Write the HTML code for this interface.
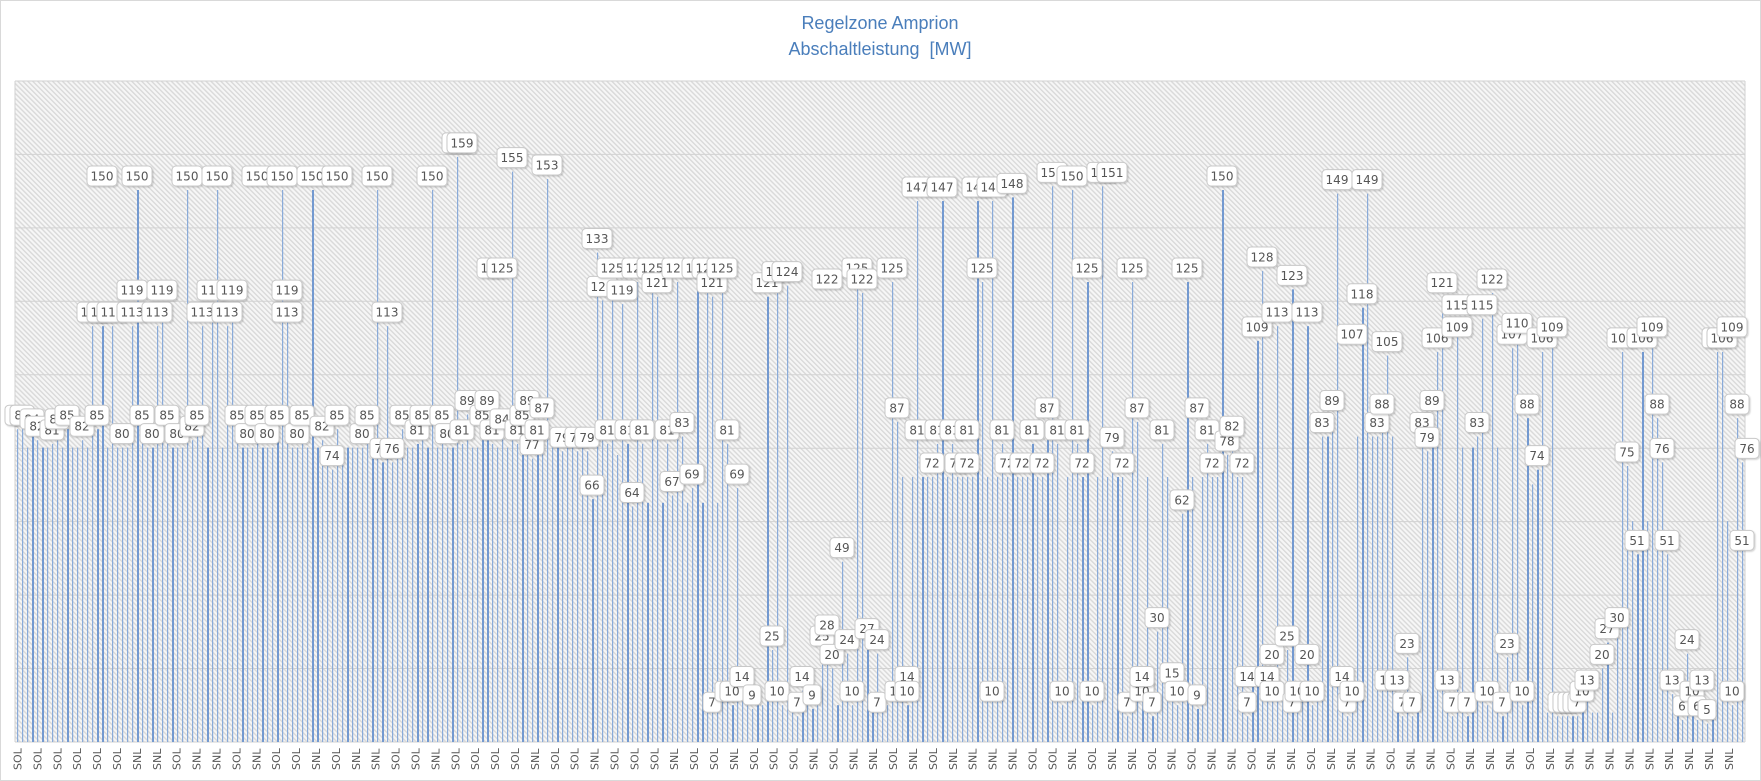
<!DOCTYPE html>
<html><head><meta charset="utf-8"><style>
html,body{margin:0;padding:0;background:#fff}
svg{display:block}
</style></head><body>
<svg id="c" width="1761" height="781" xmlns="http://www.w3.org/2000/svg" font-family="Liberation Sans, sans-serif">
<defs>
<pattern id="h" width="3.5" height="3.5" patternUnits="userSpaceOnUse" patternTransform="rotate(-45)">
<rect width="3.5" height="3.5" fill="#f6f6f6"/><rect width="1.4" height="3.5" fill="#d9d9d9"/>
</pattern>
<filter id="sh" x="-20%" y="-20%" width="150%" height="150%"><feDropShadow dx="1" dy="1" stdDeviation="0.8" flood-color="#000" flood-opacity="0.18"/></filter>
</defs>
<rect x="0.5" y="0.5" width="1760" height="780" fill="#fff" stroke="#d9d9d9"/>
<text x="880" y="29" text-anchor="middle" font-size="18" fill="#4a7ebb">Regelzone Amprion</text>
<text x="880" y="55" text-anchor="middle" font-size="18" fill="#4a7ebb">Abschaltleistung&#160; [MW]</text>
<rect x="15" y="81" width="1730" height="661" fill="url(#h)"/>
<g id="g"></g><g id="b"></g><g id="l"></g><g id="ax"></g>
</svg>
<script>
var NS="http://www.w3.org/2000/svg";
function el(p,t,a,txt){var e=document.createElementNS(NS,t);for(var k in a)e.setAttribute(k,a[k]);if(txt!=null)e.textContent=txt;document.getElementById(p).appendChild(e);return e;}
var B=742,K=3.68,L=15,R=1745;
for(var i=0;i<=9;i++){var y=B-i*73.45;el("g","line",{x1:L,x2:R,y1:y,y2:y,stroke:"#d2d2d2","stroke-width":1});}
el("g","line",{x1:L,x2:L,y1:81,y2:B,stroke:"#d2d2d2"});
el("g","line",{x1:R,x2:R,y1:81,y2:B,stroke:"#d2d2d2"});
var S=1.127;
var base=[[0,400,80],[400,520,80],[520,560,78],[560,640,65],[640,800,10],[800,1100,72],[1100,1170,15],[1170,1240,83],[1240,1260,8],[1260,1330,80],[1330,1370,70],[1370,1440,8],[1440,1480,60],[1480,1520,10],[1520,1560,60]];
var labs=[[13,85],[20,85],[28,84],[35,82],[45,81],[52,84],[60,85],[72,82],[80,113],[87,85],[92,150],[92,113],[100,113],[108,80],[117,119],[117,113],[123,150],[128,85],[136,80],[140,113],[143,119],[150,85],[158,80],[166,150],[170,82],[176,85],[178,113],[186,119],[192,150],[200,113],[205,119],[209,85],[220,80],[226,150],[230,85],[238,80],[244,85],[251,150],[253,113],[255,119],[265,80],[270,85],[278,150],[285,82],[293,74],[298,150],[301,85],[320,80],[324,85],[333,150],[337,76],[342,113],[348,76],[355,85],[370,81],[373,85],[382,150],[390,85],[398,80],[404,159],[409,159],[412,81],[415,89],[428,85],[431,89],[435,125],[438,81],[447,125],[447,84],[455,155],[460,81],[463,85],[468,89],[473,77],[477,81],[480,87],[487,153],[500,79],[510,79],[520,79],[525,66],[530,133],[535,120],[540,81],[545,125],[550,119],[555,81],[560,64],[565,125],[570,81],[578,125],[583,121],[590,81],[598,67],[600,125],[605,83],[615,69],[620,125],[628,125],[630,7],[632,121],[640,125],[643,10],[645,81],[650,10],[652,69],[660,14],[666,9],[680,121],[683,25],[688,10],[690,124],[697,124],[705,7],[710,14],[720,9],[728,25],[732,122],[735,28],[740,20],[745,49],[750,24],[755,10],[762,125],[765,122],[770,27],[778,7],[780,24],[790,125],[795,10],[798,87],[803,14],[807,10],[812,81],[815,147],[825,72],[830,81],[835,147],[845,81],[850,72],[857,81],[860,72],[865,147],[870,125],[880,10],[882,147],[888,81],[895,72],[900,148],[907,72],[915,81],[925,72],[928,87],[932,151],[940,81],[943,10],[950,150],[957,81],[962,72],[965,125],[970,10],[978,151],[985,151],[988,79],[995,72],[1000,7],[1005,125],[1010,87],[1012,10],[1015,14],[1022,7],[1028,30],[1032,81],[1040,15],[1045,10],[1050,62],[1055,125],[1060,87],[1063,9],[1072,81],[1077,72],[1085,150],[1090,78],[1093,82],[1100,72],[1105,14],[1108,7],[1115,109],[1118,128],[1123,14],[1128,10],[1130,20],[1135,113],[1140,25],[1145,7],[1148,123],[1152,10],[1158,20],[1160,113],[1165,10],[1175,83],[1180,89],[1185,149],[1190,14],[1195,7],[1198,107],[1200,10],[1207,118],[1213,149],[1220,83],[1225,88],[1230,13],[1232,105],[1238,13],[1243,7],[1250,23],[1255,7],[1262,83],[1265,79],[1270,89],[1273,106],[1278,121],[1283,13],[1288,7],[1292,109],[1295,115],[1302,7],[1310,83],[1315,115],[1320,10],[1323,122],[1332,7],[1338,23],[1342,107],[1346,110],[1352,10],[1356,88],[1365,74],[1370,106],[1375,109],[1380,7],[1385,7],[1390,7],[1395,7],[1400,7],[1405,10],[1410,13],[1420,20],[1428,27],[1435,30],[1440,106],[1445,75],[1452,51],[1458,106],[1465,109],[1470,88],[1475,76],[1478,51],[1485,13],[1492,6],[1498,24],[1500,10],[1505,6],[1510,13],[1515,5],[1522,106],[1530,106],[1535,109],[1538,10],[1542,88],[1545,51],[1550,76]];
function bv(tx){for(var i=0;i<base.length;i++)if(tx>=base[i][0]&&tx<base[i][1])return base[i][2];return 60;}
var bars=[];var n=0;
for(var x=17;x<=1742;x+=5){bars.push({x:x,v:bv(x/S),w:(n%7==3||n%11==5)?2:1.2});n++;}
labs.forEach(function(p){var rx=p[0]*S;var bi=Math.round((rx-17)/5);if(bi<0)bi=0;if(bi>=bars.length)bi=bars.length-1;bars[bi].v=p[1];bars[bi].lab=true;});
bars.forEach(function(b){var h=b.v*K;el("b","rect",{x:b.x,y:B-h,width:b.w,height:h,fill:b.w>1.5?"#7399d0":"#8aabd9"});});
labs.forEach(function(p){var v=p[1];var rx=Math.round((p[0]*S-17)/5)*5+17;var t=String(v);var w=t.length==3?30:(t.length==2?24:18);var cy=B-v*K-14;
el("l","rect",{x:rx-w/2,y:cy-10,width:w,height:20,rx:4,fill:"#fff",stroke:"#c8c8c8",filter:"url(#sh)"});
el("l","text",{x:rx,y:cy+4.5,"text-anchor":"middle","font-size":12,fill:"#555","font-family":"DejaVu Sans, sans-serif"},t);});
var pat="SOL SOL SOL SOL SOL SOL SNL SNL SOL SNL SNL SOL SNL SOL SOL SNL SOL SNL SNL SOL SOL SNL SOL SOL SOL SOL SNL SOL SOL SNL SOL SOL SOL SNL SOL SOL SNL SOL SOL SOL SNL SOL SNL SNL SOL SNL SOL SNL SNL SNL SNL SOL SOL SNL SOL SNL SNL SOL SNL SOL SNL SNL SOL SNL SNL SOL SNL SNL SNL SOL SNL SNL SOL SNL SNL SNL SOL SNL SNL SNL SNL SNL SNL SNL SNL SNL SNL".split(" ");
for(var i=0;i<87;i++){var x=17.5+i*19.9;el("ax","text",{x:0,y:0,transform:"translate("+(x+4)+",770) rotate(-90)","font-size":11,fill:"#555","font-family":"DejaVu Sans, sans-serif"},pat[i]||"SNL");}
</script>
</body></html>
